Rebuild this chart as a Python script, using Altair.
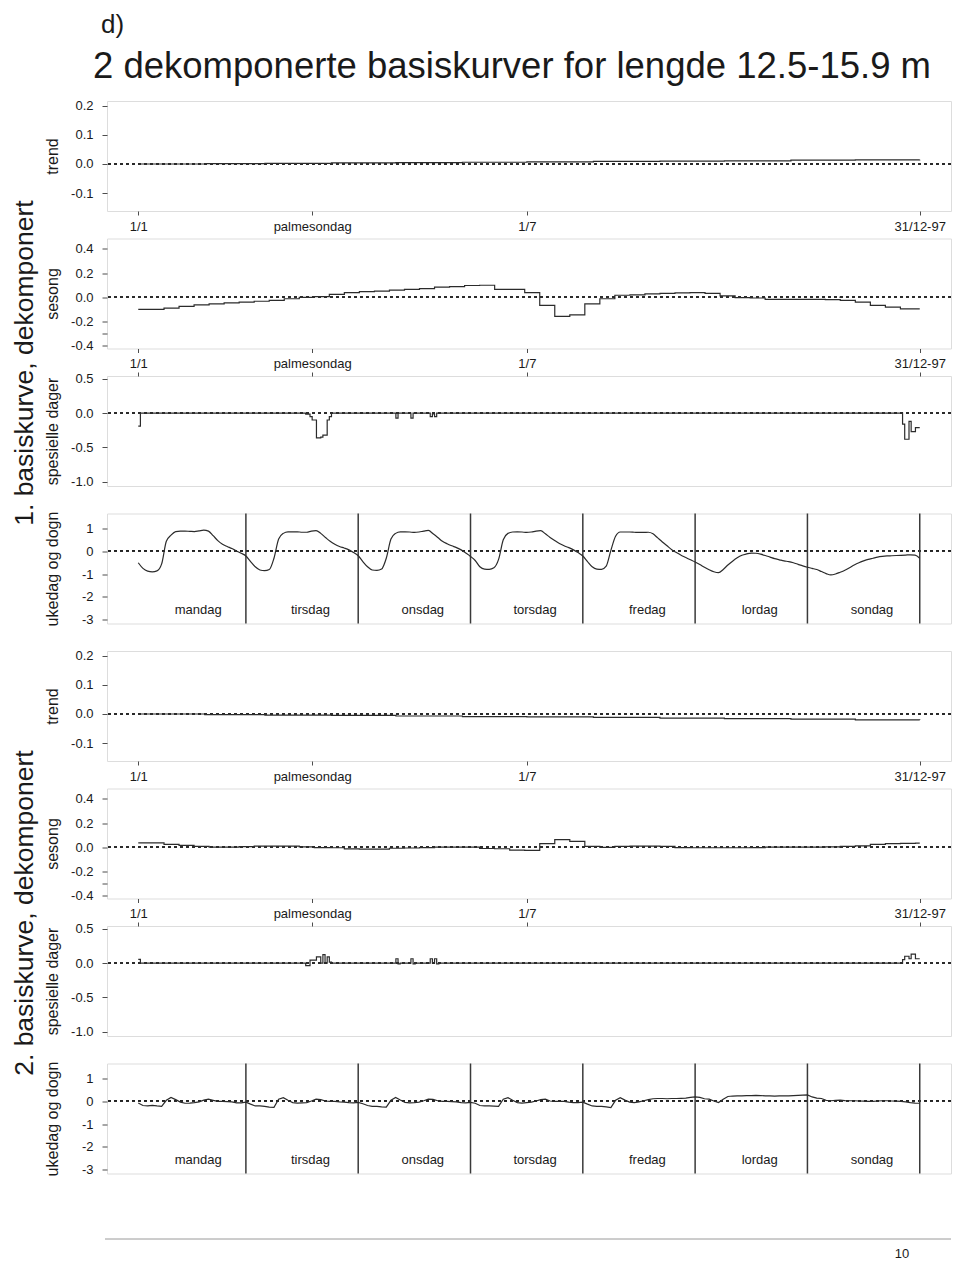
import altair as alt
import pandas as pd

FONT = "Liberation Sans"
INK = "#1a1a1a"
LINE = "#2b2b2b"
FRAME = "#4d4d4d"

W = 844
H = 110
XDOM_YEAR = [-13.56, 379.56]
XDOM_WEEK = [-5.68, 174.68]

# ---------------- axis labels ----------------
tick_days = [1, 82, 182, 365]
tick_labels = ["1/1", "palmesondag", "1/7", "31/12-97"]
day_names = ["mandag", "tirsdag", "onsdag", "torsdag", "fredag", "lordag", "sondag"]
day_bounds = [24, 48, 72, 96, 120, 144, 168]

# ---------------- trend (monthly steps) ----------------
month_days = [1, 32, 60, 91, 121, 152, 182, 213, 244, 274, 305, 335, 365]
trend1 = [0.000, 0.001, 0.002, 0.004, 0.005, 0.006, 0.007, 0.009, 0.010, 0.011, 0.013, 0.014, 0.015]
trend2 = [0.000, -0.002, -0.004, -0.005, -0.007, -0.009, -0.010, -0.012, -0.014, -0.016, -0.018, -0.020, -0.021]

# ---------------- sesong (weekly steps) ----------------
week_days = [1, 6, 13, 20, 27, 34, 41, 48, 55, 62, 69, 76, 83, 90, 97, 104, 111, 118, 125, 132,
             139, 146, 153, 160, 167, 174, 181, 188, 195, 202, 209, 216, 223, 230, 237, 244, 251,
             258, 265, 272, 279, 286, 293, 300, 307, 314, 321, 328, 335, 342, 349, 356, 363, 365]
sesong1 = [-0.103, -0.103, -0.092, -0.078, -0.065, -0.056, -0.048, -0.042, -0.035, -0.028,
           -0.014, -0.003, 0.003, 0.022, 0.036, 0.045, 0.050, 0.058, 0.064, 0.070,
           0.082, 0.086, 0.096, 0.098, 0.064, 0.064, 0.036, -0.070, -0.160, -0.148,
           -0.056, -0.014, 0.015, 0.018, 0.026, 0.030, 0.034, 0.036, 0.030, 0.010,
           -0.004, -0.008, -0.020, -0.020, -0.020, -0.020, -0.022, -0.028, -0.042, -0.070,
           -0.084, -0.098, -0.098, -0.098]
sesong2 = [0.034, 0.034, 0.022, 0.014, 0.006, 0.000, 0.000, 0.004, 0.008, 0.008,
           0.008, 0.002, -0.004, -0.006, -0.016, -0.017, -0.017, -0.010, -0.008, -0.004,
           0.000, 0.000, 0.000, -0.012, -0.014, -0.026, -0.028, 0.028, 0.062, 0.048,
           0.006, -0.003, 0.006, 0.008, 0.008, 0.006, -0.004, -0.006, -0.006, -0.006,
           -0.006, -0.004, 0.000, 0.000, 0.000, 0.000, 0.002, 0.006, 0.010, 0.022,
           0.028, 0.031, 0.032, 0.032]

# ---------------- spesielle dager (step points) ----------------
spes1_days = [1, 2, 79, 81, 82, 84, 86, 87, 89, 90, 91, 121, 122, 128, 129, 137, 138, 139, 140,
              357, 358, 360, 361, 363, 365]
spes1_vals = [-0.19, 0.0, -0.015, -0.05, -0.10, -0.36, -0.35, -0.32, -0.10, -0.05, 0.0, -0.074, 0.0,
              -0.074, 0.0, -0.05, -0.01, -0.05, 0.0, -0.16, -0.38, -0.12, -0.27, -0.21, -0.21]
spes2_days = [1, 2, 79, 81, 82, 84, 86, 87, 88, 89, 90, 91, 121, 122, 123, 128, 129, 130, 137, 138,
              139, 140, 141, 357, 358, 360, 361, 363, 365]
spes2_vals = [0.054, 0.0, -0.035, 0.045, 0.045, 0.09, 0.0, 0.124, 0.0, 0.09, 0.015, 0.0, 0.064, -0.01,
              0.0, 0.064, -0.01, 0.0, 0.064, 0.0, 0.064, -0.01, 0.0, 0.05, 0.10, 0.064, 0.13, 0.064, 0.064]

# ---------------- ukedag og dogn (hourly, hours 1..168) ----------------
uke1_man = [-0.50, -0.75, -0.87, -0.90, -0.86, -0.55, 0.45, 0.72, 0.88, 0.90, 0.90, 0.89,
            0.88, 0.91, 0.94, 0.90, 0.70, 0.48, 0.32, 0.22, 0.13, 0.02, -0.08, -0.20]
uke1_tir = [-0.45, -0.68, -0.82, -0.85, -0.80, -0.30, 0.55, 0.80, 0.87, 0.87, 0.87, 0.85,
            0.85, 0.90, 0.92, 0.80, 0.62, 0.45, 0.32, 0.22, 0.15, 0.07, -0.05, -0.19]
uke1_ons = [-0.45, -0.68, -0.82, -0.84, -0.78, -0.30, 0.55, 0.80, 0.87, 0.87, 0.86, 0.84,
            0.86, 0.90, 0.93, 0.78, 0.62, 0.45, 0.34, 0.25, 0.17, 0.07, -0.07, -0.22]
uke1_tor = [-0.40, -0.68, -0.78, -0.79, -0.72, -0.35, 0.52, 0.80, 0.86, 0.87, 0.86, 0.84,
            0.86, 0.90, 0.92, 0.78, 0.62, 0.48, 0.35, 0.25, 0.17, 0.07, -0.05, -0.20]
uke1_fre = [-0.45, -0.68, -0.78, -0.79, -0.65, 0.05, 0.67, 0.86, 0.86, 0.86, 0.85, 0.84,
            0.84, 0.85, 0.78, 0.60, 0.42, 0.25, 0.08, -0.05, -0.17, -0.27, -0.37, -0.47]
uke1_lor = [-0.58, -0.70, -0.81, -0.90, -0.94, -0.80, -0.60, -0.43, -0.28, -0.17, -0.11, -0.07,
            -0.08, -0.12, -0.18, -0.25, -0.32, -0.37, -0.42, -0.45, -0.50, -0.57, -0.64, -0.70]
uke1_son = [-0.75, -0.80, -0.89, -0.98, -1.04, -1.00, -0.92, -0.83, -0.72, -0.60, -0.50, -0.42,
            -0.35, -0.30, -0.25, -0.22, -0.20, -0.19, -0.18, -0.17, -0.16, -0.15, -0.16, -0.30]

uke2_man = [-0.07, -0.18, -0.20, -0.17, -0.20, -0.22, 0.05, 0.18, 0.08, -0.03, -0.08, -0.07,
            -0.05, -0.02, 0.06, 0.10, 0.05, 0.00, 0.00, -0.01, -0.02, -0.06, -0.06, -0.03]
uke2_tir = [-0.12, -0.20, -0.20, -0.22, -0.25, -0.26, 0.10, 0.17, 0.05, -0.05, -0.07, -0.06,
            -0.05, 0.02, 0.10, 0.08, 0.02, 0.00, 0.00, -0.02, -0.03, -0.05, -0.06, -0.04]
uke2_ons = [-0.10, -0.18, -0.22, -0.22, -0.24, -0.25, 0.05, 0.18, 0.06, -0.04, -0.06, -0.05,
            -0.03, 0.03, 0.10, 0.09, 0.03, 0.00, 0.00, -0.01, -0.02, -0.05, -0.06, -0.04]
uke2_tor = [-0.08, -0.18, -0.20, -0.20, -0.21, -0.22, 0.10, 0.17, 0.05, -0.05, -0.07, -0.05,
            -0.03, 0.02, 0.08, 0.10, 0.02, 0.00, 0.00, 0.00, -0.03, -0.05, -0.05, -0.03]
uke2_fre = [-0.12, -0.20, -0.22, -0.22, -0.24, -0.27, 0.05, 0.17, 0.06, -0.03, -0.05, -0.02,
            0.03, 0.08, 0.12, 0.13, 0.13, 0.12, 0.13, 0.13, 0.14, 0.15, 0.18, 0.20]
uke2_lor = [0.18, 0.12, 0.10, 0.02, -0.05, 0.10, 0.22, 0.24, 0.25, 0.25, 0.26, 0.26,
            0.27, 0.26, 0.25, 0.25, 0.24, 0.25, 0.25, 0.25, 0.26, 0.27, 0.28, 0.29]
uke2_son = [0.20, 0.15, 0.13, 0.05, 0.03, 0.05, 0.06, 0.04, 0.03, 0.03, 0.02, 0.01,
            0.00, 0.00, 0.02, 0.03, 0.03, 0.02, 0.01, 0.00, -0.02, -0.05, -0.07, -0.08]

uke1 = uke1_man + uke1_tir + uke1_ons + uke1_tor + uke1_fre + uke1_lor + uke1_son
uke2 = uke2_man + uke2_tir + uke2_ons + uke2_tor + uke2_fre + uke2_lor + uke2_son
hours = list(range(1, 169))

year_label_expr = " : ".join(
    [f"datum.value == {d} ? '{l}'" for d, l in zip(tick_days, tick_labels)]) + " : ''"


def y_axis(title, ticks, fmt, hidden=None):
    expr = (f"datum.value < 0 ? '-' + format(-datum.value, '{fmt}') : "
            f"format(datum.value, '{fmt}')")
    if hidden is not None:
        expr = f"datum.value == {hidden} ? '' : (" + expr + ")"
    return alt.Axis(values=ticks, tickCount=30, labelExpr=expr, title=title, grid=False,
                    domain=False, tickSize=5, tickColor=FRAME, tickWidth=1, labelPadding=9,
                    labelFontSize=13, labelFont=FONT, labelColor=INK, labelOverlap=False,
                    labelFlush=False, titleFont=FONT, titleFontSize=16,
                    titleFontWeight="normal", titleColor=INK, titleX=-50, titleY=H / 2,
                    titleAngle=270, titleAlign="center", titleBaseline="alphabetic")


def x_axis(orient, labels):
    return alt.Axis(values=tick_days, tickCount=30, labelExpr=year_label_expr, orient=orient,
                    labels=labels, title=None, grid=False, domain=False, tickSize=4,
                    tickColor=FRAME, labelPadding=5, labelFontSize=13, labelFont=FONT,
                    labelColor=INK, labelFlush=False, labelOverlap=False)


def zero_rule(df, ydom):
    return alt.Chart(df).mark_rule(strokeDash=[3, 3], color=LINE, strokeWidth=1).encode(
        y=alt.datum(0, scale=alt.Scale(domain=ydom, nice=False, zero=False)))


def year_panel(days, vals, ydom, ticks, fmt, title, orient, labels, hidden=None):
    df = pd.DataFrame({"day": days, "v": vals})
    line = alt.Chart(df).mark_line(interpolate="step-after", color=LINE, strokeWidth=1.2,
                                   clip=True).encode(
        x=alt.X("day:Q", scale=alt.Scale(domain=XDOM_YEAR, nice=False, zero=False),
                axis=x_axis(orient, labels)),
        y=alt.Y("v:Q", scale=alt.Scale(domain=ydom, nice=False, zero=False),
                axis=y_axis(title, ticks, fmt, hidden)))
    return alt.layer(zero_rule(df, ydom), line).properties(width=W, height=H)


def week_panel(vals, interp):
    ydom = [-3.19, 1.68]
    xs = alt.Scale(domain=XDOM_WEEK, nice=False, zero=False)
    ys = alt.Scale(domain=ydom, nice=False, zero=False)
    df = pd.DataFrame({"h": hours, "v": vals})
    bdf = pd.DataFrame({"h": day_bounds})
    ldf = pd.DataFrame({"name": day_names, "h": [24 * i + 13.8 for i in range(7)],
                        "y": [-2.79] * 7})
    line = alt.Chart(df).mark_line(interpolate=interp, color=LINE, strokeWidth=1.2).encode(
        x=alt.X("h:Q", scale=xs, axis=None),
        y=alt.Y("v:Q", scale=ys, axis=y_axis("ukedag og dogn", [-3, -2, -1, 0, 1], "d")))
    vr = alt.Chart(bdf).mark_rule(color="#3a3a3a", strokeWidth=1.5).encode(
        x=alt.X("h:Q", scale=xs, axis=None))
    txt = alt.Chart(ldf).mark_text(font=FONT, fontSize=13, color=INK, align="center",
                                   baseline="alphabetic").encode(
        x=alt.X("h:Q", scale=xs, axis=None), y=alt.Y("y:Q", scale=ys), text="name:N")
    return alt.layer(zero_rule(df, ydom), vr, line, txt).properties(width=W, height=H)


TR_DOM = [-0.162, 0.217]
SE_DOM = [-0.428, 0.487]
SP_DOM = [-1.06, 0.54]


def group(trend, sesong, s_days, s_vals, uke, interp, label):
    p1 = year_panel(month_days, trend, TR_DOM, [-0.1, 0.0, 0.1, 0.2], ".1f", "trend", "bottom", True)
    p2 = year_panel(week_days, sesong, SE_DOM, [-0.4, -0.3, -0.2, 0.0, 0.2, 0.4], ".1f", "sesong",
                    "bottom", True, hidden=-0.3)
    p3 = year_panel(s_days, s_vals, SP_DOM, [-1.0, -0.5, 0.0, 0.5], ".1f", "spesielle dager",
                    "top", False)
    p4 = week_panel(uke, interp)
    return alt.vconcat(p1, p2, p3, p4, spacing=27.5, bounds="flush",
                       title=alt.TitleParams(label, orient="left", anchor="middle", fontSize=26.5,
                                             font=FONT, fontWeight="normal", color=INK, offset=5))


g1 = group(trend1, sesong1, spes1_days, spes1_vals, uke1, "monotone", "1. basiskurve, dekomponert")
g2 = group(trend2, sesong2, spes2_days, spes2_vals, uke2, "linear", "2. basiskurve, dekomponert")

fdf = pd.DataFrame({"page": ["10"]})
f_rule = alt.Chart(fdf).mark_rule(color="#9a9a9a", strokeWidth=1).encode(
    x=alt.value(-2), x2=alt.value(W), y=alt.value(39))
f_text = alt.Chart(fdf).mark_text(font=FONT, fontSize=13, color=INK, align="center",
                                  baseline="middle").encode(
    text="page:N", x=alt.value(795), y=alt.value(54))
footer = alt.layer(f_rule, f_text).properties(
    width=W, height=50, view=alt.ViewBackground(stroke="transparent"))

main = alt.vconcat(g1, g2, footer, spacing=22,
                   title=alt.TitleParams("2 dekomponerte basiskurver for lengde 12.5-15.9 m",
                                         fontSize=36.5, font=FONT, fontWeight="normal", color=INK,
                                         anchor="middle", offset=14, dx=30))

chart = alt.vconcat(main, title=alt.TitleParams("d)", fontSize=26, font=FONT, fontWeight="normal",
                                               color=INK, anchor="start", dx=89, offset=11)
                    ).properties(padding={"left": 3, "top": 3, "right": 0, "bottom": 0}
                    ).configure_view(stroke=FRAME, strokeWidth=1.3
                    ).configure(font=FONT, background="white")

chart.save("out.html", embed_options={"renderer": "svg", "actions": False})
